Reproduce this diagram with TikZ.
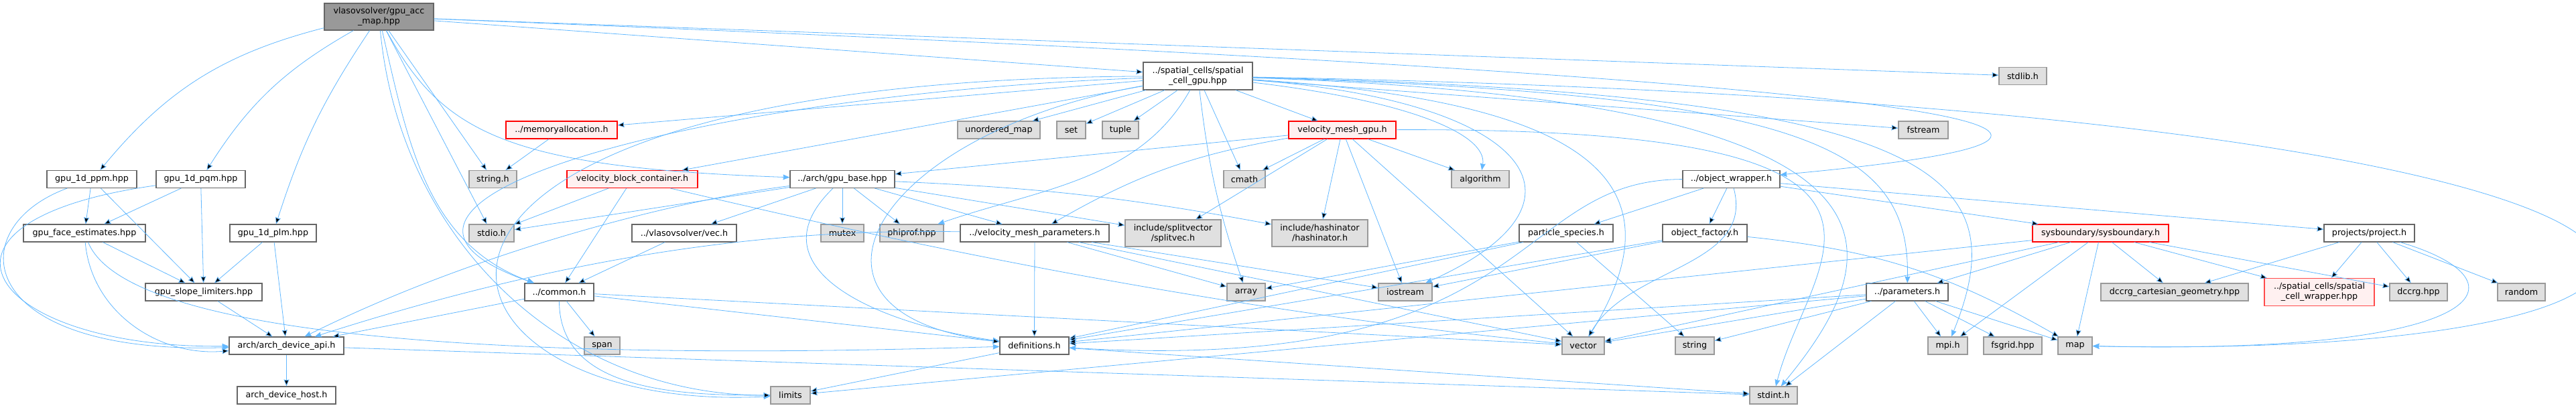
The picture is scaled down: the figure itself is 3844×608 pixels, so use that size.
\documentclass[tikz,border=0pt]{standalone}
\usepackage{fontspec}
\setmainfont{DejaVu Sans}
\usepackage{tikz}
\usetikzlibrary{arrows.meta, positioning}

\definecolor{depblue}{HTML}{63B8FF}
\definecolor{filedraw}{HTML}{666666}
\definecolor{sysfill}{HTML}{E0E0E0}
\definecolor{sysdraw}{HTML}{999999}
\definecolor{topfill}{HTML}{999999}
\definecolor{redfill}{HTML}{FFF0F0}

\begin{document}
\begin{tikzpicture}[x=1pt, y=1pt, ->, >={Stealth[length=10pt,width=8pt,inset=1pt]},
  file/.style={draw=filedraw, fill=white, line width=1.1pt, text=black, inner sep=1pt,
    minimum height=26pt, align=center, font=\fontsize{12.7}{15}\selectfont},
  sys/.style={file, draw=sysdraw, fill=sysfill},
  bad/.style={file, draw=red, fill=redfill},
  top/.style={file, fill=topfill, minimum height=40pt},
  dep/.style={draw=depblue, line width=0.8pt}]
  \useasboundingbox (0,0) rectangle (3844,-608);

  % top rows
  \node[top, minimum width=163pt] (acc) at (565.5,-25) {vlasovsolver/gpu\_acc\\\_map.hpp};
  \node[file, minimum width=163pt, minimum height=41pt] (scg) at (1787.5,-113.5) {../spatial\_cells/spatial\\\_cell\_gpu.hpp};
  \node[sys, minimum width=71pt] (stdlibh) at (3018.5,-113.5) {stdlib.h};
  \node[bad, minimum width=166pt] (memalloc) at (838,-194) {../memoryallocation.h};
  \node[sys, minimum width=123pt] (umap) at (1490.5,-194) {unordered\_map};
  \node[sys, minimum width=43pt] (set) at (1598.5,-194) {set};
  \node[sys, minimum width=54pt] (tuple) at (1672,-194) {tuple};
  \node[bad, minimum width=160pt] (vmg) at (2003,-194) {velocity\_mesh\_gpu.h};
  \node[sys, minimum width=74pt] (fstream) at (2870,-194) {fstream};

  % row of gpu_base
  \node[file, minimum width=134pt] (ppm) at (137,-267.5) {gpu\_1d\_ppm.hpp};
  \node[file, minimum width=133pt] (pqm) at (299.5,-267.5) {gpu\_1d\_pqm.hpp};
  \node[sys, minimum width=71pt] (stringh) at (735.5,-267.5) {string.h};
  \node[bad, minimum width=195pt] (vbc) at (943.5,-267.5) {velocity\_block\_container.h};
  \node[file, minimum width=156pt] (gpubase) at (1257,-267.5) {../arch/gpu\_base.hpp};
  \node[sys, minimum width=62pt] (cmath) at (1857,-267.5) {cmath};
  \node[sys, minimum width=86pt] (algo) at (2209,-267.5) {algorithm};
  \node[file, minimum width=145pt] (objwrap) at (2583.5,-267.5) {../object\_wrapper.h};

  % middle row
  \node[file, minimum width=182pt] (face) at (126,-348) {gpu\_face\_estimates.hpp};
  \node[file, minimum width=129pt] (plm) at (407.5,-348) {gpu\_1d\_plm.hpp};
  \node[sys, minimum width=67pt] (stdioh) at (733.5,-348) {stdio.h};
  \node[file, minimum width=156pt] (vech) at (1021,-348) {../vlasovsolver/vec.h};
  \node[sys, minimum width=64pt] (mutex) at (1257,-348) {mutex};
  \node[sys, minimum width=95pt] (phiprof) at (1360.5,-348) {phiprof.hpp};
  \node[file, minimum width=222pt] (vmp) at (1544,-348) {../velocity\_mesh\_parameters.h};
  \node[sys, minimum width=143pt, minimum height=40pt] (splitvec) at (1750.5,-348) {include/splitvector\\/splitvec.h};
  \node[sys, minimum width=143pt, minimum height=40pt] (hashinator) at (1969.5,-348) {include/hashinator\\/hashinator.h};
  \node[file, minimum width=140pt] (species) at (2337,-348) {particle\_species.h};
  \node[file, minimum width=126pt] (factory) at (2544,-348) {object\_factory.h};
  \node[bad, minimum width=203pt] (sysb) at (3134.5,-348) {sysboundary/sysboundary.h};
  \node[file, minimum width=135pt] (project) at (3535.5,-348) {projects/project.h};

  % lower rows
  \node[file, minimum width=174pt] (slope) at (304,-436) {gpu\_slope\_limiters.hpp};
  \node[file, minimum width=103pt] (common) at (834.5,-436) {../common.h};
  \node[sys, minimum width=57pt] (array) at (1859.5,-436) {array};
  \node[sys, minimum width=80pt] (iostream) at (2097,-436) {iostream};
  \node[file, minimum width=122pt] (params) at (2846,-436) {../parameters.h};
  \node[sys, minimum width=220pt] (dccrggeo) at (3245,-436) {dccrg\_cartesian\_geometry.hpp};
  \node[bad, draw=red!70, minimum width=164pt, minimum height=41pt] (scw) at (3461,-436) {../spatial\_cells/spatial\\\_cell\_wrapper.hpp};
  \node[sys, minimum width=86pt] (dccrg) at (3609,-436) {dccrg.hpp};
  \node[sys, minimum width=71pt] (random) at (3762.5,-436) {random};

  \node[file, minimum width=171pt] (devapi) at (427.5,-516) {arch/arch\_device\_api.h};
  \node[sys, minimum width=53pt] (span) at (898.5,-516) {span};
  \node[file, minimum width=103pt] (defs) at (1543.5,-516) {definitions.h};
  \node[sys, minimum width=63pt] (vector) at (2362.5,-516) {vector};
  \node[sys, minimum width=58pt] (string) at (2529,-516) {string};
  \node[sys, minimum width=59pt] (mpih) at (2906.5,-516) {mpi.h};
  \node[sys, minimum width=87pt] (fsgrid) at (3003.5,-516) {fsgrid.hpp};
  \node[sys, minimum width=51pt] (map) at (3096.5,-516) {map};

  \node[file, minimum width=147pt] (devhost) at (427.5,-590) {arch\_device\_host.h};
  \node[sys, minimum width=59pt] (limits) at (1179.5,-590) {limits};
  \node[sys, minimum width=71pt] (stdinth) at (2646.5,-590) {stdint.h};

  % includes of the accelerator map
  \draw[dep] (acc) edge[bend right=18] (ppm) edge[bend right=14] (pqm) edge[bend right=8] (plm)
    edge (stringh) edge (stdioh) edge[out=283,in=160] (common) edge (scg) edge (stdlibh);
  \draw[dep] (acc) .. controls (597,-356) and (838,-590) .. (limits);
  \draw[dep] (acc) .. controls (660,-200) and (760,-250) .. (gpubase);
  \draw[dep] (acc) .. controls (3500,-140) and (3100,-220) .. (objwrap);

  \draw[dep] (ppm) edge (face) edge (slope);
  \draw[dep] (ppm) .. controls (-60,-340) and (-40,-530) .. (devapi);
  \draw[dep] (pqm) edge (face) edge (slope);
  \draw[dep] (pqm) .. controls (-150,-330) and (-20,-520) .. (devapi);
  \draw[dep] (face) edge (slope) edge[out=275,in=185] (devapi);
  \draw[dep] (face) .. controls (212,-560) and (1280,-523) .. (defs);
  \draw[dep] (plm) edge (slope) edge (devapi);
  \draw[dep] (slope) edge (devapi);
  \draw[dep] (devapi) edge (devhost) edge (stdinth);

  % spatial cell
  \draw[dep] (scg) edge (memalloc) edge (vbc) edge (umap) edge (set) edge (tuple) edge (vmg)
    edge (cmath) edge[bend right=6] (array) edge (fstream);
  \draw[dep] (scg) .. controls (1700,-270) and (1550,-282) .. (phiprof);
  \draw[dep] (scg) .. controls (1050,-140) and (450,-300) .. (common);
  \draw[dep] (scg) .. controls (1300,-200) and (1150,-470) .. (defs);
  \draw[dep] (scg) .. controls (450,-120) and (600,-620) .. (limits);
  \draw[dep] (scg) .. controls (2100,-150) and (2220,-200) .. (algo);
  \draw[dep] (scg) .. controls (2280,-150) and (2400,-300) .. (iostream);
  \draw[dep] (scg) .. controls (2350,-150) and (2520,-260) .. (vector);
  \draw[dep] (scg) .. controls (2700,-140) and (2850,-220) .. (params);
  \draw[dep] (scg) .. controls (2900,-140) and (3010,-260) .. (mpih);
  \draw[dep] (scg) .. controls (2900,-150) and (2820,-380) .. (stdinth);
  \draw[dep] (scg) .. controls (4280,-160) and (4280,-540) .. (map);

  \draw[dep] (vmg) edge (gpubase) edge (cmath) edge[bend right=10] (vmp) edge (splitvec)
    edge (hashinator) edge (algo) edge (iostream) edge (vector);
  \draw[dep] (vmg) .. controls (2950,-190) and (2700,-380) .. (stdinth);

  \draw[dep] (gpubase) edge (stdioh) edge (vech) edge (mutex) edge (phiprof) edge (vmp)
    edge (splitvec) edge[bend left=4] (hashinator);
  \draw[dep] (gpubase) .. controls (1116,-404) and (1320,-486) .. (defs);
  \draw[dep] (gpubase) .. controls (1000,-300) and (700,-380) .. (devapi);

  \draw[dep] (memalloc) edge (stringh);
  \draw[dep] (vbc) edge (stdioh) edge (common);
  \draw[dep] (vbc) .. controls (1471,-393) and (1901,-471) .. (vector);
  \draw[dep] (vech) edge (common);
  \draw[dep] (common) edge (span) edge[out=270,in=180] (limits) edge (devapi) edge (defs) edge (vector);
  \draw[dep] (vmp) edge (defs) edge (array) edge (iostream) edge (vector);
  \draw[dep] (vmp) .. controls (1126,-340) and (820,-390) .. (devapi);
  \draw[dep] (defs) edge (limits) edge (stdinth);

  % object wrapper side
  \draw[dep] (objwrap) edge (species) edge (factory) edge (sysb) edge (project)
    edge[out=285,in=60] (vector);
  \draw[dep] (objwrap) .. controls (2250,-268) and (2300,-560) .. (defs);
  \draw[dep] (species) edge (array) edge (string) edge (defs);
  \draw[dep] (factory) edge (iostream) edge (defs) edge[bend left=12] (map);
  \draw[dep] (params) edge (mpih) edge (fsgrid) edge (map) edge (stdinth) edge (string)
    edge (vector) edge (defs) edge (limits);
  \draw[dep] (sysb) edge (params) edge (mpih) edge (map) edge (dccrggeo) edge (scw)
    edge (dccrg) edge (defs) edge (vector);
  \draw[dep] (project) edge (dccrggeo) edge (scw) edge (dccrg) edge (random);
  \draw[dep] (project) .. controls (3780,-420) and (3720,-530) .. (map);
\end{tikzpicture}
\end{document}
